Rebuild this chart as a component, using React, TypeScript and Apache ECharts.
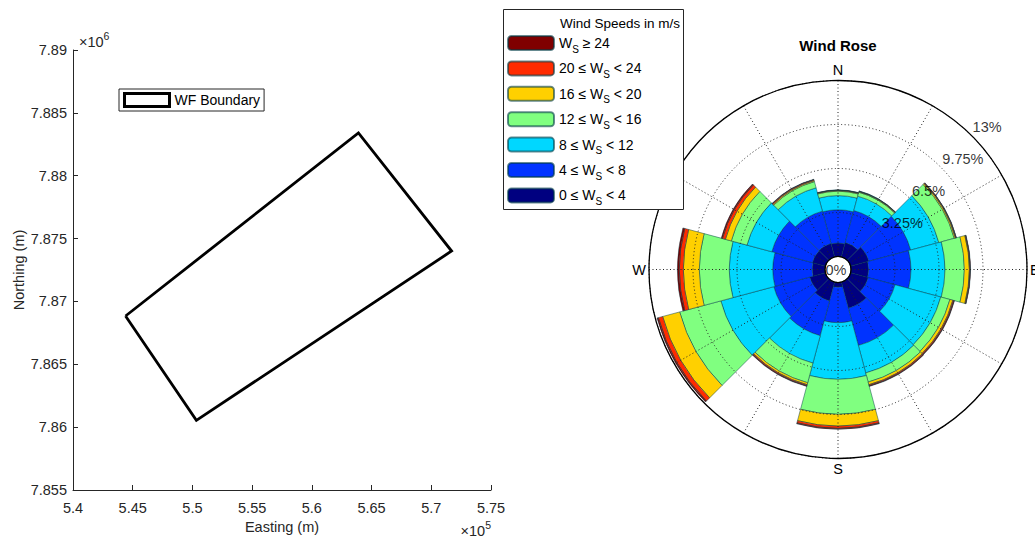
import { useEffect, useRef } from 'react';
import * as echarts from 'echarts';

const FONT = '"Liberation Sans", Arial, Helvetica, sans-serif';

// ---- Left panel: wind farm boundary ----
const boundaryEasting = [544400, 563900, 571700, 550330, 544400];
const boundaryNorthing = [7868840, 7883400, 7874010, 7860540, 7868840];
const eastingMin = 540000;
const eastingMax = 575000;
const eastingStep = 5000;
const northingMin = 7855000;
const northingMax = 7890000;
const northingStep = 5000;

// ---- Right panel: wind rose (frequency in %) ----
const directions = ['0°', '30°', '60°', '90°', '120°', '150°', '180°', '210°', '240°', '270°', '300°', '330°'];
const ws0to4 = [1.0, 1.1, 1.4, 1.3, 1.35, 2.0, 0.35, 1.45, 1.2, 0.95, 1.0, 1.03];
const ws4to8 = [2.45, 2.45, 3.2, 3.13, 2.05, 2.85, 2.62, 2.65, 2.75, 2.91, 3.1, 2.47];
const ws8to12 = [1.05, 1.1, 2.15, 2.51, 3.5, 2.1, 4.18, 2.1, 4.05, 3.21, 1.9, 1.79];
const ws12to16 = [0.32, 0.3, 1.18, 1.43, 0.7, 0.7, 2.58, 1.5, 3.15, 2.21, 1.2, 0.47];
const ws16to20 = [0.05, 0.05, 0.09, 0.37, 0.22, 0.2, 0.87, 0.15, 1.3, 1.18, 0.45, 0.08];
const ws20to24 = [0.03, 0.03, 0.06, 0.06, 0.08, 0.08, 0.17, 0.08, 0.33, 0.3, 0.23, 0.07];
const ws24plus = [0.02, 0.02, 0.02, 0.03, 0.05, 0.05, 0.07, 0.05, 0.1, 0.14, 0.09, 0.03];

const binNames = ['0-4', '4-8', '8-12', '12-16', '16-20', '20-24', '24+'];
const binLabels = [
  '0 ≤ W{s|S} < 4',
  '4 ≤ W{s|S} < 8',
  '8 ≤ W{s|S} < 12',
  '12 ≤ W{s|S} < 16',
  '16 ≤ W{s|S} < 20',
  '20 ≤ W{s|S} < 24',
  'W{s|S} ≥ 24',
];
const binColors = ['#000080', '#0033ff', '#00d7ff', '#80ff80', '#ffd000', '#ff2b00', '#7f0000'];
const binValues = [ws0to4, ws4to8, ws8to12, ws12to16, ws16to20, ws20to24, ws24plus];

const radialTicks = [0, 3.25, 6.5, 9.75, 13];
const radialTickLabels = ['0%', '3.25%', '6.5%', '9.75%', '13%'];
const radialLabelBearing = 43.5;
const compassAngles = [0, 90, 180, 270];
const compassLabels = ['N', 'E', 'S', 'W'];

const fmt = (v: number) => String(parseFloat(v.toFixed(4)));

export default function App() {
  const ref = useRef<HTMLDivElement>(null);
  useEffect(() => {
    if (!ref.current) return;
    const chart = echarts.init(ref.current, undefined, { renderer: 'svg' });

    const roseSeries = binValues.map((vals, i) => ({
      type: 'bar',
      name: binNames[i],
      coordinateSystem: 'polar',
      polarIndex: 0,
      stack: 'rose',
      data: vals,
      barCategoryGap: '0%',
      itemStyle: { color: binColors[i], borderColor: 'rgba(0,60,70,0.6)', borderWidth: 0.8 },
      z: 2,
    }));

    const option: any = {
      animation: false,
      textStyle: { fontFamily: FONT },
      grid: { left: 73, top: 50, width: 418, height: 440, containLabel: false },
      xAxis: {
        type: 'value',
        min: eastingMin,
        max: eastingMax,
        interval: eastingStep,
        name: 'Easting (m)',
        nameLocation: 'middle',
        nameGap: 29,
        nameTextStyle: { fontSize: 14.5, color: '#262626', fontFamily: FONT },
        axisLine: { lineStyle: { color: '#262626', width: 1 } },
        axisTick: { inside: true, length: 5, lineStyle: { color: '#262626' } },
        axisLabel: { formatter: (v: number) => fmt(v / 1e5), fontSize: 14.5, color: '#262626', margin: 10, fontFamily: FONT },
        splitLine: { show: false },
      },
      yAxis: {
        type: 'value',
        min: northingMin,
        max: northingMax,
        interval: northingStep,
        name: 'Northing (m)',
        nameLocation: 'middle',
        nameGap: 47,
        nameTextStyle: { fontSize: 14.5, color: '#262626', fontFamily: FONT },
        axisLine: { show: true, lineStyle: { color: '#262626', width: 1 } },
        axisTick: { show: true, inside: true, length: 5, lineStyle: { color: '#262626' } },
        axisLabel: { formatter: (v: number) => fmt(v / 1e6), fontSize: 14.5, color: '#262626', margin: 6, fontFamily: FONT },
        splitLine: { show: false },
      },
      polar: [
        { center: [838, 269.5], radius: [13, 189] },
        { center: [838, 269.5], radius: [13, 189] },
      ],
      angleAxis: [
        {
          polarIndex: 0,
          type: 'category',
          data: directions,
          startAngle: 105,
          clockwise: true,
          axisLine: { show: false },
          axisTick: { show: false },
          axisLabel: { show: false },
          splitLine: { show: false },
        },
        {
          polarIndex: 1,
          type: 'value',
          min: 0,
          max: 360,
          interval: 30,
          startAngle: 90,
          clockwise: true,
          z: 10,
          axisLine: { show: true, lineStyle: { color: '#000', width: 1.3 } },
          axisTick: { show: false },
          axisLabel: {
            show: true,
            margin: 3,
            fontSize: 14.5,
            color: '#000',
            fontFamily: FONT,
            formatter: (v: number) => {
              const k = compassAngles.indexOf(v);
              return k >= 0 ? compassLabels[k] : '';
            },
          },
          splitLine: { show: true, lineStyle: { color: '#222', type: [1, 2.5], width: 1 } },
        },
      ],
      radiusAxis: [
        { polarIndex: 0, type: 'value', min: 0, max: 13, show: false, axisLine: { show: false }, splitLine: { show: false } },
        {
          polarIndex: 1,
          type: 'value',
          min: 0,
          max: 13,
          interval: 3.25,
          z: 10,
          axisLine: { show: false },
          axisTick: { show: false },
          axisLabel: { show: false },
          splitLine: { show: true, lineStyle: { color: '#222', type: [1, 2.5], width: 1 } },
        },
      ],
      legend: [
        {
          data: [{ name: 'WF Boundary', icon: 'rect', itemStyle: { color: '#fff', borderColor: '#000', borderWidth: 3 } }],
          left: 119,
          top: 89,
          orient: 'horizontal',
          itemWidth: 45,
          itemHeight: 13,
          backgroundColor: '#fff',
          borderColor: '#262626',
          borderWidth: 1,
          borderRadius: 0,
          padding: [3, 4, 3, 4],
          selectedMode: false,
          textStyle: { fontSize: 14, color: '#000', fontFamily: FONT },
        },
        {
          data: binNames.slice().reverse(),
          orient: 'vertical',
          left: 507,
          top: 35,
          itemWidth: 46,
          itemHeight: 14,
          itemGap: 6.4,
          padding: 0,
          z: 60,
          selectedMode: false,
          formatter: (name: string) => binLabels[binNames.indexOf(name)],
          textStyle: {
            fontSize: 14,
            color: '#000',
            fontFamily: FONT,
            rich: { s: { fontSize: 10, padding: [12, 0, 0, 0], color: '#000', fontFamily: FONT } },
          },
        },
      ],
      graphic: [
        {
          type: 'rect',
          z: 50,
          shape: { x: 503.5, y: 9.5, width: 180, height: 200 },
          style: { fill: '#fff', stroke: '#262626', lineWidth: 1 },
        },
        {
          type: 'text',
          z: 61,
          x: 620,
          y: 23,
          style: { text: 'Wind Speeds in m/s', fill: '#000', font: '13.5px ' + FONT, textAlign: 'center', textVerticalAlign: 'middle' },
        },
        {
          type: 'text',
          z: 61,
          x: 838,
          y: 45,
          style: { text: 'Wind Rose', fill: '#000', font: 'bold 15px ' + FONT, textAlign: 'center', textVerticalAlign: 'middle' },
        },
        {
          type: 'text',
          z: 61,
          x: 79,
          y: 42,
          style: {
            text: '×10{p|6}',
            fill: '#262626',
            font: '14.5px ' + FONT,
            textAlign: 'left',
            textVerticalAlign: 'middle',
            rich: { p: { fontSize: 10.5, padding: [0, 0, 12, 0], fill: '#262626' } },
          },
        },
        {
          type: 'text',
          z: 61,
          x: 491,
          y: 531,
          style: {
            text: '×10{p|5}',
            fill: '#262626',
            font: '14.5px ' + FONT,
            textAlign: 'right',
            textVerticalAlign: 'middle',
            rich: { p: { fontSize: 10.5, padding: [0, 0, 12, 0], fill: '#262626' } },
          },
        },
      ],
      series: [
        {
          type: 'line',
          name: 'WF Boundary',
          xAxisIndex: 0,
          yAxisIndex: 0,
          data: boundaryEasting.map((x, i) => [x, boundaryNorthing[i]]),
          symbol: 'none',
          showSymbol: false,
          lineStyle: { color: '#000', width: 2.8, join: 'miter' },
          itemStyle: { color: '#000' },
          z: 3,
        },
        ...roseSeries,
        {
          type: 'scatter',
          name: 'radial labels',
          coordinateSystem: 'polar',
          polarIndex: 1,
          symbolSize: 1,
          silent: true,
          z: 12,
          itemStyle: { color: 'rgba(0,0,0,0)' },
          data: radialTicks.map((v, i) => ({
            value: [v, i === 0 ? 270 : radialLabelBearing],
            label: i === 0 ? { distance: 0, offset: [0, 0] } : { distance: 4, offset: [0, -5] },
          })),
          label: {
            show: true,
            position: 'right',
            fontSize: 14.5,
            color: '#000',
            fontFamily: FONT,
            formatter: (p: any) => radialTickLabels[p.dataIndex],
          },
        },
      ],
    };
    chart.setOption(option);
    return () => chart.dispose();
  }, []);
  return <div ref={ref} style={{ position: 'absolute', left: 0, top: 0, width: 1035, height: 541, background: '#fff' }} />;
}
